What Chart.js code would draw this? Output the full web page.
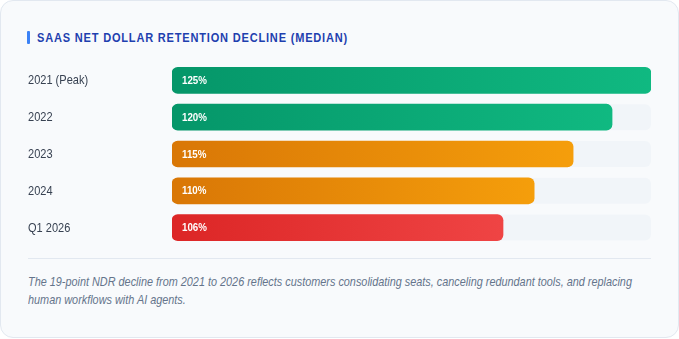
<!DOCTYPE html>
<html lang="en">
<head>
<meta charset="utf-8" />
<title>SaaS Net Dollar Retention Decline</title>
<script src="https://cdn.jsdelivr.net/npm/chart.js@4.4.1/dist/chart.umd.min.js"></script>
<style>
	html, body { margin: 0; padding: 0; background: #ffffff; }
	body { width: 679px; height: 339px; position: relative; overflow: hidden;
		font-family: "Liberation Sans", Arial, sans-serif; }
	.card { position: absolute; left: 0; top: 0; width: 677px; height: 336px;
		background: #f8fafc; border: 1px solid #e2e8f0; border-radius: 13px; }
	/* text in the reference is a bit narrower than the font, so squeeze it */
	.squeeze { display: inline-block; transform: scaleX(0.849); transform-origin: 0 0; }
	.accent { position: absolute; left: 26px; top: 30px; width: 3px; height: 13px; background: #3b82f6; border-radius: 1px; }
	.title { position: absolute; left: 36px; top: 29px; white-space: nowrap;
		font-size: 13px; line-height: 15px; font-weight: bold; letter-spacing: 0.95px; color: #1e40af; }
	.chart-box { position: absolute; left: 26px; top: 61px; width: 624px; height: 184px; }
	.divider { position: absolute; left: 27px; top: 257px; width: 623px; height: 1px; background: #e2e8f0; }
	.note { position: absolute; left: 27px; top: 272px; width: 734px;
		font-size: 12.8px; line-height: 18.4px; font-style: italic; color: #64748b; }
</style>
</head>
<body>
<div class="card">
	<div class="accent"></div>
	<div class="title squeeze">SAAS NET DOLLAR RETENTION DECLINE (MEDIAN)</div>
	<div class="chart-box"><canvas id="ndrChart"></canvas></div>
	<div class="divider"></div>
	<div class="note squeeze">The 19-point NDR decline from 2021 to 2026 reflects customers consolidating seats, canceling redundant tools, and replacing human workflows with AI agents.</div>
</div>
<script>
// data
const periods = ['2021 (Peak)', '2022', '2023', '2024', 'Q1 2026'];
const ndrValues = [125, 120, 115, 110, 106];
const valueLabels = ['125%', '120%', '115%', '110%', '106%'];
const tones = ['green', 'green', 'amber', 'amber', 'red'];

const axisMin = 63.5;
const axisMax = 125;

const toneColors = {
	green: ['#059669', '#10b981'],
	amber: ['#d97706', '#f59e0b'],
	red: ['#dc2626', '#ef4444']
};
const FONT = '"Liberation Sans", Arial, sans-serif';
const SQUEEZE = 0.849;

function barFill(ctx) {
	const chart = ctx.chart;
	const pair = toneColors[tones[ctx.dataIndex]] || toneColors.green;
	const x = chart.scales.x;
	if (!chart.chartArea || !x) return pair[0];
	const x0 = x.getPixelForValue(axisMin);
	const x1 = x.getPixelForValue(ndrValues[ctx.dataIndex]);
	const g = chart.ctx.createLinearGradient(x0, 0, x1, 0);
	g.addColorStop(0, pair[0]);
	g.addColorStop(1, pair[1]);
	return g;
}

function roundRect(c, x, y, w, h, r) {
	c.beginPath();
	c.moveTo(x + r, y);
	c.arcTo(x + w, y, x + w, y + h, r);
	c.arcTo(x + w, y + h, x, y + h, r);
	c.arcTo(x, y + h, x, y, r);
	c.arcTo(x, y, x + w, y, r);
	c.closePath();
}

function narrowText(c, text, x, y) {
	c.save();
	c.translate(x, y);
	c.scale(SQUEEZE, 1);
	c.fillText(text, 0, 0);
	c.restore();
}

// grey track behind every bar + category names on the left
const trackPlugin = {
	id: 'track',
	beforeDatasetsDraw(chart) {
		const c = chart.ctx;
		const area = chart.chartArea;
		const yScale = chart.scales.y;
		const meta = chart.getDatasetMeta(0);
		c.save();
		c.fillStyle = '#f1f5f9';
		meta.data.forEach(bar => {
			const h = bar.height;
			roundRect(c, area.left, bar.y - h / 2, area.right - area.left, h, 6);
			c.fill();
		});
		c.fillStyle = '#374151';
		c.font = '13px ' + FONT;
		c.textBaseline = 'middle';
		c.textAlign = 'left';
		periods.forEach((p, i) => {
			narrowText(c, p, yScale.left + 1, yScale.getPixelForTick(i) + 0.5);
		});
		c.restore();
	}
};

// value text inside each bar
const valueTextPlugin = {
	id: 'valueText',
	afterDatasetsDraw(chart) {
		const c = chart.ctx;
		const meta = chart.getDatasetMeta(0);
		c.save();
		c.fillStyle = '#ffffff';
		c.font = 'bold 11.5px ' + FONT;
		c.textBaseline = 'middle';
		c.textAlign = 'left';
		meta.data.forEach((bar, i) => {
			narrowText(c, valueLabels[i], bar.base + 10, bar.y + 0.5);
		});
		c.restore();
	}
};

new Chart(document.getElementById('ndrChart'), {
	type: 'bar',
	data: {
		labels: periods,
		datasets: [{
			data: ndrValues,
			base: axisMin,
			backgroundColor: barFill,
			borderRadius: 6,
			borderSkipped: false,
			barThickness: 26
		}]
	},
	options: {
		indexAxis: 'y',
		responsive: true,
		maintainAspectRatio: false,
		animation: false,
		layout: { padding: 0 },
		plugins: {
			legend: { display: false },
			tooltip: { enabled: false }
		},
		scales: {
			x: {
				display: false,
				beginAtZero: false,
				min: axisMin,
				max: axisMax
			},
			y: {
				grid: { display: false },
				border: { display: false },
				ticks: { display: false },
				afterFit(scale) { scale.width = 145; }
			}
		}
	},
	plugins: [trackPlugin, valueTextPlugin]
});
</script>
</body>
</html>
